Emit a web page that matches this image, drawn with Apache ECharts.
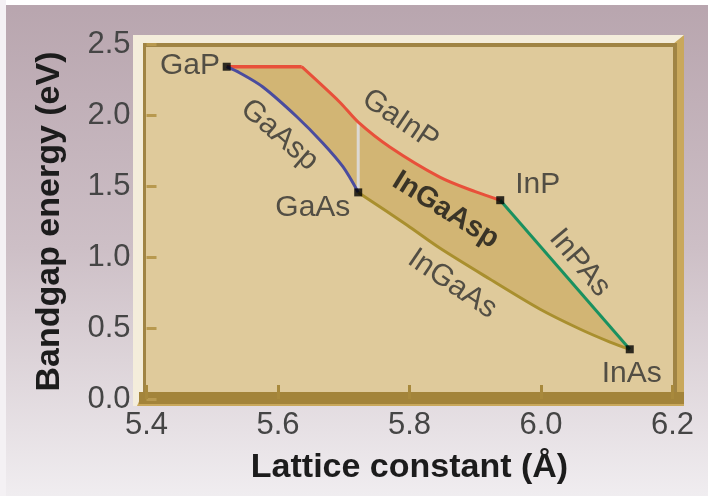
<!DOCTYPE html>
<html>
<head>
<meta charset="utf-8">
<script src="https://cdn.jsdelivr.net/npm/echarts@6/dist/echarts.min.js"></script>
<style>
  html, body { margin: 0; padding: 0; background: #ffffff; }
  #chart { width: 708px; height: 496px; }
</style>
</head>
<body>
<div id="chart"></div>
<script>
// ---- Data ----
// Lattice constant (Å) vs bandgap energy (eV)
const gaInP = [[5.522, 2.34], [5.636, 2.34], [5.694, 2.09], [5.722, 1.95], [5.770, 1.775], [5.846, 1.563], [5.900, 1.46], [5.938, 1.40]];
const gaAsP = [[5.522, 2.34], [5.542, 2.296], [5.577, 2.197], [5.629, 1.986], [5.668, 1.803], [5.699, 1.634], [5.722, 1.455]];
const inGaAs = [[5.722, 1.455], [5.796, 1.225], [5.846, 1.063], [5.922, 0.845], [5.998, 0.634], [6.059, 0.493], [6.105, 0.401], [6.135, 0.35]];
const inPAs = [[5.938, 1.40], [6.135, 0.35]];
const boundary = [[5.722, 1.455], [5.722, 1.95]];
const compoundNames = ['GaP', 'GaAs', 'InP', 'InAs'];
const compoundPoints = [[5.522, 2.34], [5.722, 1.455], [5.938, 1.40], [6.135, 0.35]];
const labelTexts = ['GaP', 'GaAs', 'InP', 'InAs', 'GaAsp', 'GaInP', 'InGaAsp', 'InGaAs', 'InPAs'];
const labelAnchors = [[5.466, 2.345], [5.653, 1.345], [5.995, 1.507], [6.138, 0.176], [5.602, 1.859], [5.786, 1.965], [5.855, 1.33], [5.865, 0.81], [6.059, 0.958]];
const labelAngles = [0, 0, 0, 0, -41, -34, -32, -34, -50];
const xTickValues = [5.4, 5.6, 5.8, 6.0, 6.2];
const yTickValues = [0.0, 0.5, 1.0, 1.5, 2.0, 2.5];

// ---- Build ----
const region = [].concat(
  gaInP,
  inPAs.slice(1),
  inGaAs.slice().reverse().slice(1),
  gaAsP.slice().reverse().slice(1)
);

const FONT = '"Liberation Sans", Arial, Helvetica, sans-serif';
const boldLabels = { 'InGaAsp': true };

const chart = echarts.init(document.getElementById('chart'), null, { renderer: 'canvas' });

const option = {
  backgroundColor: {
    type: 'linear', x: 0, y: 0, x2: 0, y2: 1,
    colorStops: [
      { offset: 0, color: '#b8a5ae' },
      { offset: 0.5, color: '#cdbfc6' },
      { offset: 1, color: '#f0edf0' }
    ]
  },
  animation: false,
  graphic: [
    { type: 'rect', z: -20, shape: { x: 0, y: 0, width: 708, height: 5 }, style: { fill: '#ffffff' } },
    { type: 'rect', z: -20, shape: { x: 0, y: 0, width: 6, height: 496 }, style: { fill: '#f4f1f4' } },
    // bevelled plot frame
    { type: 'rect', z: -20, shape: { x: 133, y: 35, width: 551, height: 371 }, style: { fill: '#f4eddb' } },
    { type: 'polygon', z: -19, shape: { points: [[684, 35], [684, 406], [137, 406], [143, 392], [673, 392], [673, 44]] }, style: { fill: '#c9a85c' } },
    { type: 'rect', z: -18, shape: { x: 143, y: 43, width: 534, height: 351 }, style: { fill: '#a08444' } },
    { type: 'rect', z: -17, shape: { x: 146, y: 47, width: 527, height: 345 }, style: { fill: '#dfca9b' } },
    { type: 'rect', z: -17, shape: { x: 139, y: 392, width: 545, height: 12 }, style: { fill: '#a3843a' } }
  ],
  grid: { left: 146.5, right: 35.5, top: 44, bottom: 97, containLabel: false },
  xAxis: {
    type: 'value',
    min: xTickValues[0], max: xTickValues[xTickValues.length - 1], interval: 0.2,
    axisLine: { show: false },
    splitLine: { show: false },
    axisTick: { show: true, inside: true, length: 14, lineStyle: { color: '#a8893c', width: 3 } },
    axisLabel: {
      margin: 11, fontSize: 31, color: '#454545', fontFamily: FONT,
      formatter: v => Number(v).toFixed(1)
    },
    name: 'Lattice constant (Å)',
    nameLocation: 'middle', nameGap: 52,
    nameTextStyle: { fontSize: 34, fontWeight: 'bold', color: '#1c1c1c', fontFamily: FONT, verticalAlign: 'top' }
  },
  yAxis: {
    type: 'value',
    min: yTickValues[0], max: yTickValues[yTickValues.length - 1], interval: 0.5,
    axisLine: { show: false },
    splitLine: { show: false },
    axisTick: { show: true, inside: true, length: 10, lineStyle: { color: '#b8994f', width: 3 } },
    axisLabel: {
      margin: 16, fontSize: 31, color: '#454545', fontFamily: FONT,
      padding: [5, 0, 0, 0],
      formatter: v => Number(v).toFixed(1)
    },
    name: 'Bandgap energy (eV)',
    nameLocation: 'middle', nameGap: 80,
    nameTextStyle: { fontSize: 34, fontWeight: 'bold', color: '#1c1c1c', fontFamily: FONT }
  },
  series: [
    {
      type: 'custom',
      name: 'InGaAsP region',
      silent: true,
      z: 1,
      data: [region[0]],
      renderItem: function (params, api) {
        return {
          type: 'polygon',
          shape: { points: region.map(p => api.coord(p)) },
          style: { fill: '#d2b574' }
        };
      }
    },
    { type: 'line', name: 'boundary', data: boundary, showSymbol: false, z: 3,
      lineStyle: { color: '#dcd8d2', width: 3 } },
    { type: 'line', name: 'GaInP', data: gaInP.slice(0, 2), showSymbol: false, z: 4,
      lineStyle: { color: '#e8503a', width: 3.5 } },
    { type: 'line', name: 'GaInP', data: gaInP.slice(1), showSymbol: false, smooth: 0.3, z: 4,
      lineStyle: { color: '#e8503a', width: 3 } },
    { type: 'line', name: 'GaAsP', data: gaAsP, showSymbol: false, smooth: 0.3, z: 4,
      lineStyle: { color: '#4a4c9e', width: 3 } },
    { type: 'line', name: 'InGaAs', data: inGaAs, showSymbol: false, smooth: 0.3, z: 4,
      lineStyle: { color: '#a98f2e', width: 3 } },
    { type: 'line', name: 'InPAs', data: inPAs, showSymbol: false, z: 4,
      lineStyle: { color: '#1a9160', width: 3 } },
    { type: 'scatter', name: 'compounds', z: 6,
      symbol: 'rect', symbolSize: 8,
      itemStyle: { color: '#000000' },
      data: compoundPoints.map((p, i) => ({ name: compoundNames[i], value: p })) },
    { type: 'scatter', name: 'labels', z: 7, silent: true,
      symbolSize: 0,
      data: labelTexts.map((t, i) => ({
        name: t,
        value: labelAnchors[i],
        label: {
          show: true, position: 'inside', formatter: t,
          rotate: labelAngles[i],
          fontSize: boldLabels[t] ? 29 : 30,
          fontWeight: boldLabels[t] ? 'bold' : 'normal',
          color: boldLabels[t] ? '#141414' : '#2e2e2e',
          fontFamily: FONT
        }
      }))
    }
  ]
};

chart.setOption(option);
</script>
</body>
</html>
